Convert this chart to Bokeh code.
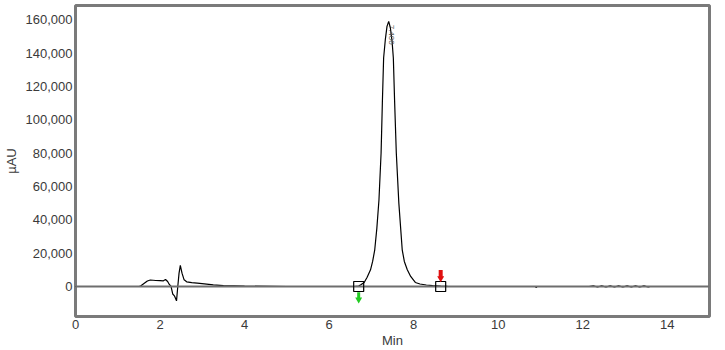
from bokeh.plotting import figure
from bokeh.models import Range1d, FixedTicker, NumeralTickFormatter
from bokeh.embed import file_html
from bokeh.resources import INLINE
from bokeh.core.properties import value

# ---- data ----
time_min = [0.00, 1.50, 1.54, 1.62, 1.70, 1.77, 1.90, 2.00, 2.08, 2.13, 2.18, 2.22, 2.26,
            2.30, 2.34, 2.39, 2.42, 2.45, 2.48, 2.52, 2.57, 2.63, 2.75, 2.88, 3.05, 3.26,
            3.50, 4.00, 5.00, 6.00, 6.60, 6.70, 6.76, 6.83, 6.90, 6.98, 7.03, 7.08, 7.13,
            7.18, 7.23, 7.26, 7.29, 7.33, 7.37, 7.41, 7.45, 7.49, 7.52, 7.55, 7.59, 7.65,
            7.73, 7.78, 7.85, 7.93, 8.04, 8.15, 8.30, 8.45, 8.64, 8.80, 9.00, 10.00, 10.88,
            10.90, 10.92, 11.50, 12.15, 12.25, 12.35, 12.45, 12.55, 12.65, 12.75, 12.85,
            12.95, 13.05, 13.15, 13.25, 13.35, 13.45, 13.55, 13.60]
signal_uau = [0, 0, 300, 1800, 3300, 3900, 3600, 3500, 3400, 4200, 3000, 1200, 0,
              -4500, -5600, -8600, 0, 8000, 12700, 8000, 4000, 2800, 2300, 2000, 1600, 1000,
              500, 200, 0, 0, 0, 300, 1200, 2400, 5500, 10000, 15000, 22000, 35000,
              52000, 80000, 110000, 137000, 148000, 156000, 159000, 155000, 147000, 137000, 111000, 80000, 50000,
              22000, 15000, 10000, 6000, 2400, 1500, 900, 500, 200, 100, 0, 0, 0,
              -700, 0, 0, 0, 350, -300, 350, -300, 350, -300, 350, -300,
              350, -300, 350, -300, 350, -300, 0, 0]

peak_start = [6.70]
peak_end = [8.64]
peak_apex_time = [7.41]
peak_apex_height = [159000]
peak_label = ["7.400"]
start_pin_y = [-6000]
end_pin_y = [6800]

x_ticks = [0, 2, 4, 6, 8, 10, 12, 14]
y_ticks = [0, 20000, 40000, 60000, 80000, 100000, 120000, 140000, 160000]

FONT = "Liberation Sans"
TXT = "#3a3a3a"

p = figure(width=725, height=350, output_backend="svg", toolbar_location=None,
           x_range=Range1d(0, 15), y_range=Range1d(-18000, 168500),
           min_border_left=75, min_border_right=16, min_border_top=5, min_border_bottom=33)

p.background_fill_color = "white"
p.border_fill_color = "white"
p.outline_line_color = "#7a7a7a"
p.outline_line_width = 3
p.xgrid.visible = False
p.ygrid.visible = False

for ax in (p.xaxis[0], p.yaxis[0]):
    ax.axis_line_color = None
    ax.major_tick_line_color = None
    ax.minor_tick_line_color = None
    ax.major_tick_out = 0
    ax.major_tick_in = 0
    ax.minor_tick_out = 0
    ax.minor_tick_in = 0
    ax.major_label_text_font = FONT
    ax.major_label_text_font_size = "13px"
    ax.major_label_text_color = TXT
    ax.axis_label_text_font = FONT
    ax.axis_label_text_font_size = "13px"
    ax.axis_label_text_font_style = "normal"
    ax.axis_label_text_color = TXT

p.xaxis.ticker = FixedTicker(ticks=x_ticks)
p.yaxis.ticker = FixedTicker(ticks=y_ticks)
p.yaxis.formatter = NumeralTickFormatter(format="0,0")
p.xaxis.axis_label = "Min"
p.yaxis.axis_label = "µAU"
p.xaxis.major_label_standoff = 3
p.xaxis.axis_label_standoff = 1
p.yaxis.major_label_standoff = 3
p.yaxis.axis_label_standoff = 4

# chromatogram trace
p.line(time_min, signal_uau, line_color="black", line_width=1.2)

# baseline (gray) across the run
p.line([0, 15], [0, 0], line_color="#6e6e6e", line_width=2.2)

# peak start/end squares
p.scatter(peak_start + peak_end, [0, 0], marker="square", size=10,
          fill_color=None, line_color="black", line_width=1.2)

# green pin below start
p.rect(peak_start, [start_pin_y[0] + 800], width=3, height=6, width_units="screen",
       height_units="screen", fill_color="#22cc22", line_color=None)
p.scatter(peak_start, [start_pin_y[0] - 1800], marker="inverted_triangle", size=7,
          fill_color="#22cc22", line_color=None)

# red pin above end
p.rect(peak_end, [end_pin_y[0] + 1000], width=4, height=7, width_units="screen",
       height_units="screen", fill_color="#e01010", line_color=None)
p.scatter(peak_end, [end_pin_y[0] - 1800], marker="inverted_triangle", size=7,
          fill_color="#e01010", line_color=None)

# retention time label
p.text([peak_apex_time[0] + 0.07], [peak_apex_height[0] - 2000], text=peak_label,
       angle=-1.5708, text_font=value(FONT), text_font_size="8px", text_color="#555555",
       text_align="left", text_baseline="middle")

open("out.html", "w").write(file_html(p, INLINE))
